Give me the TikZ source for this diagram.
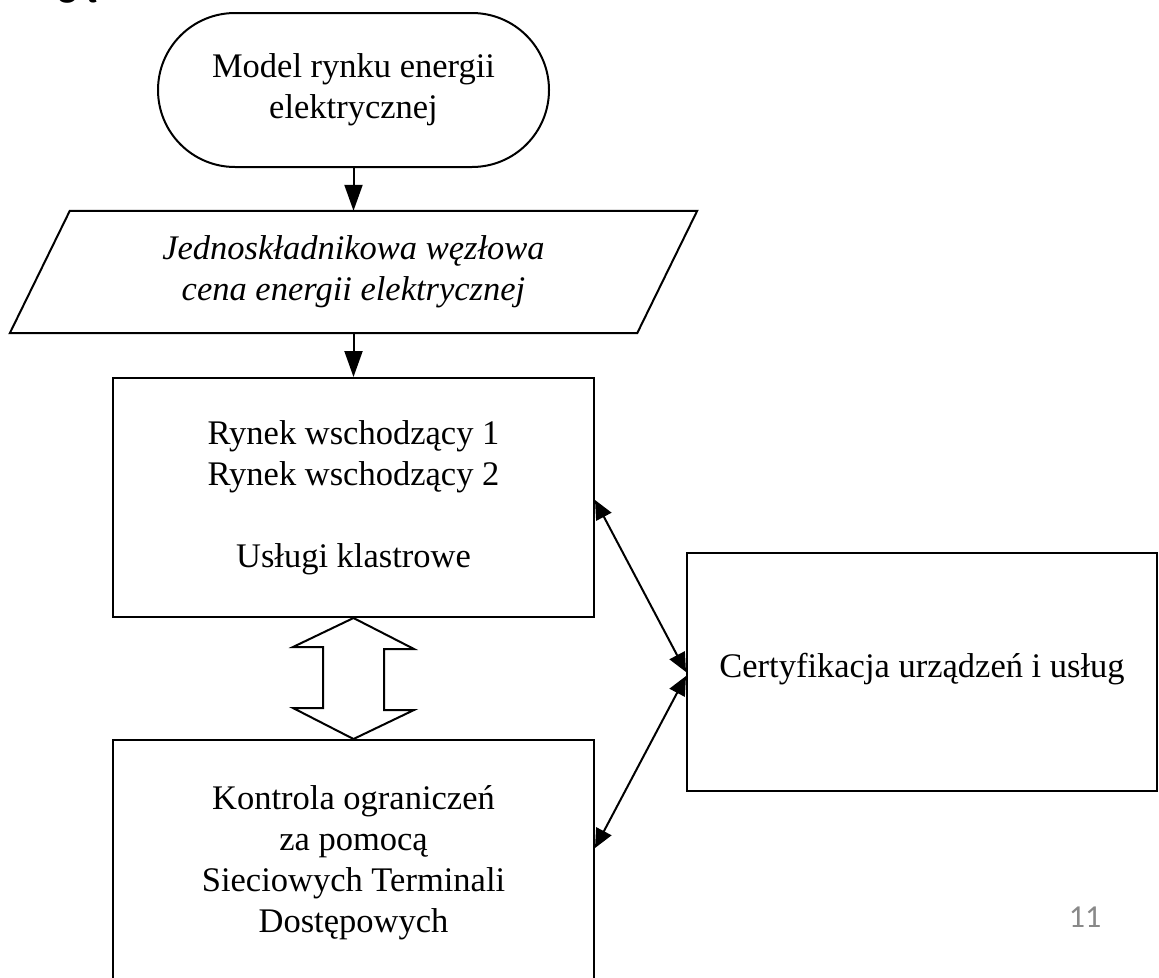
\documentclass[tikz,border=0pt]{standalone}
\usepackage{fontspec}
\setmainfont{Liberation Serif}
\newfontfamily\pagefont{Carlito}
\usetikzlibrary{arrows.meta,shapes.misc,calc}
\definecolor{pagegray}{RGB}{137,137,137}
\tikzset{
  box/.style={draw, line width=2pt, rectangle, align=center, font=\fontsize{34.5}{41}\selectfont, inner sep=0pt},
  term/.style={draw, line width=2pt, rounded rectangle, align=center, font=\fontsize{34.5}{41}\selectfont, inner sep=0pt},
  ghost/.style={rectangle, align=center, inner sep=0pt, font=\fontsize{34.5}{41}\selectfont\itshape},
  flow/.style={line width=2pt, -{Triangle[length=26pt,width=18pt]}},
  link/.style={line width=2pt, {Triangle[length=19pt,width=17pt]}-{Triangle[length=19pt,width=17pt]}},
  hollow/.style={line width=2pt, line join=miter},
}
\begin{document}
\begin{tikzpicture}[x=1pt,y=-1pt]
\useasboundingbox (0,0) rectangle (1159,977);
% partial title at top edge
\node[anchor=base west, inner sep=0pt, font=\pagefont\bfseries\fontsize{40}{48}\selectfont] (title) at (58,-4) {gą};
% nodes
\node[term, minimum width=391pt, minimum height=154pt] (model) at (353.5,90) {Model rynku energii\\elektrycznej};
\node[ghost, minimum width=627pt, minimum height=122pt] (cena) at (353.5,272) {Jednoskładnikowa węzłowa\\cena energii elektrycznej};
\draw[line width=2pt, line join=miter] ($(cena.south west)+(-30,0)$) -- ($(cena.south east)+(-30,0)$) -- ($(cena.north east)+(30,0)$) -- ($(cena.north west)+(30,0)$) -- cycle;
\node[box, minimum width=481pt, minimum height=239pt] (rynek) at (353.5,497.5) {Rynek wschodzący 1\\Rynek wschodzący 2\\[41pt]Usługi klastrowe};
\node[box, minimum width=481pt, minimum height=245pt] (kontrola) at (353.5,862.5) {Kontrola ograniczeń\\za pomocą\\Sieciowych Terminali\\Dostępowych};
\node[box, minimum width=470pt, minimum height=238pt, text depth=14pt] (cert) at (922,672) {Certyfikacja urządzeń i usług};
\node[font=\pagefont\fontsize{32}{38}\selectfont, text=pagegray, inner sep=0pt] (page) at (1085,917) {11};
% connectors
\draw[flow] (model.south) -- (cena.north);
\draw[flow] (cena.south) -- (rynek.north);
\draw[link] ([yshift=-2.5pt]rynek.east) -- (cert.west);
\draw[link] ([yshift=-4pt]cert.west) -- ([yshift=14.5pt]kontrola.east);
% hollow double arrow
\draw[hollow] (rynek.south) -- ++(60.5,31) -- ++(-30,0) -- ++(0,61) -- ++(30,0) -- (kontrola.north) -- ++(-60.5,-31) -- ++(30,0) -- ++(0,-61) -- ++(-30,0) -- cycle;
\end{tikzpicture}
\end{document}
